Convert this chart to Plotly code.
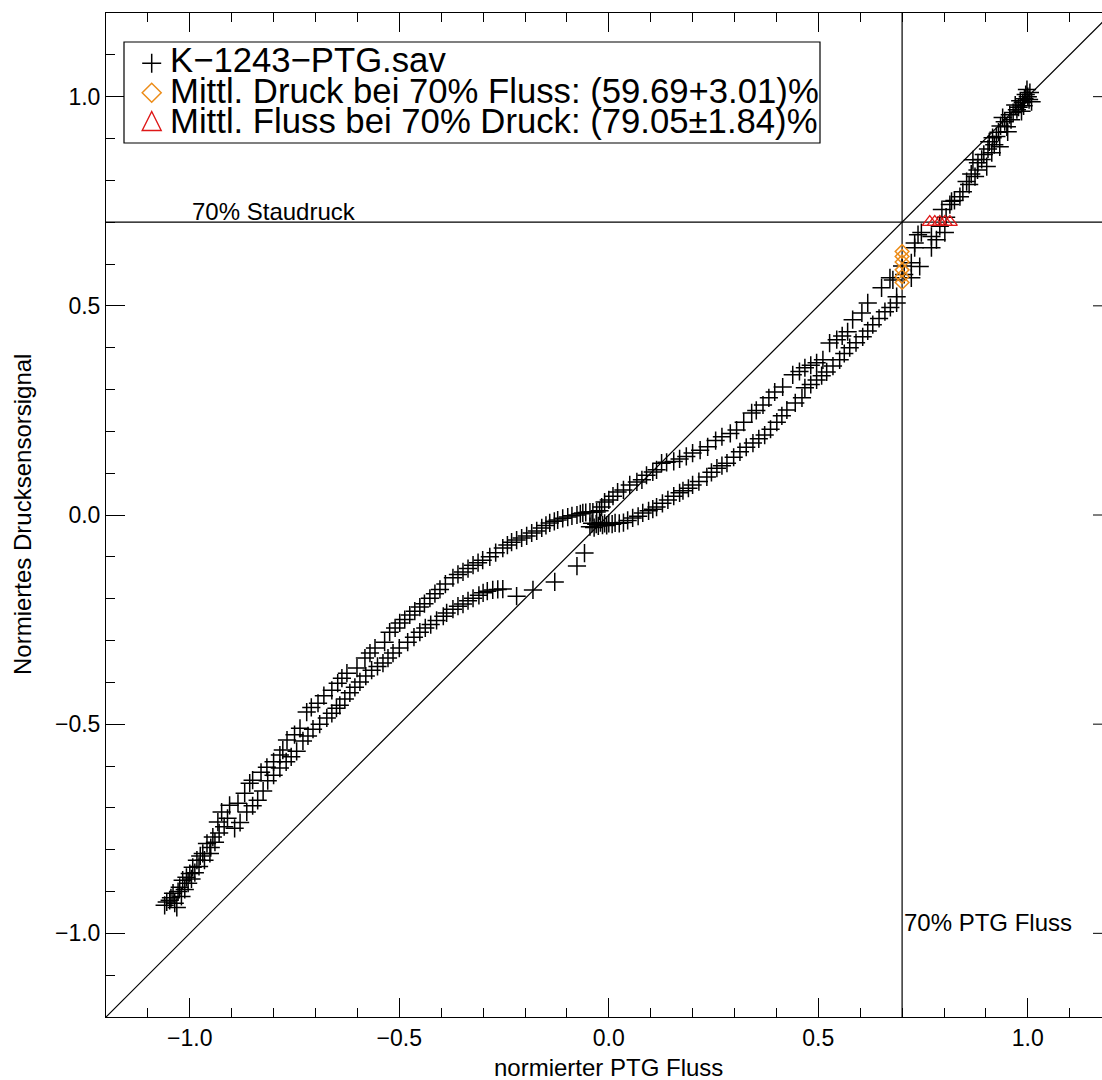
import plotly.graph_objects as go

# ---------------- data ----------------
# normierter PTG Fluss (x) / normiertes Drucksensorsignal (y)
cluster_low_x = [-1.060, -1.055, -1.048, -1.045, -1.040, -1.036, -1.031, -1.028, -1.024, -1.020, -1.017,
                 -1.012, -1.008, -1.004, -1.000, -0.996, -0.993, -0.988, -0.983, -0.978, -0.975, -0.969,
                 -0.965, -0.959, -0.952, -0.950, -0.945, -0.940, -0.933, -0.930, -0.924, -0.918, -0.910]
cluster_low_y = [-0.933, -0.925, -0.921, -0.915, -0.904, -0.928, -0.938, -0.900, -0.890, -0.912, -0.873,
                 -0.895, -0.866, -0.880, -0.857, -0.870, -0.842, -0.855, -0.825, -0.840, -0.815, -0.809,
                 -0.825, -0.785, -0.809, -0.795, -0.770, -0.782, -0.734, -0.760, -0.710, -0.745, -0.725]

upper_left1_x = [-0.905, -0.885, -0.869, -0.857, -0.850, -0.830, -0.816, -0.800, -0.785, -0.778, -0.768,
                 -0.750, -0.737, -0.721, -0.710, -0.694, -0.680, -0.661, -0.647, -0.637, -0.625, -0.601,
                 -0.582, -0.570, -0.558, -0.535, -0.523, -0.510, -0.499, -0.487, -0.475, -0.463, -0.451,
                 -0.440, -0.427]
upper_left1_y = [-0.694, -0.689, -0.665, -0.641, -0.634, -0.615, -0.603, -0.590, -0.574, -0.562, -0.538,
                 -0.525, -0.510, -0.471, -0.460, -0.450, -0.432, -0.419, -0.402, -0.390, -0.378, -0.366,
                 -0.342, -0.330, -0.318, -0.304, -0.280, -0.270, -0.258, -0.250, -0.239, -0.230, -0.220,
                 -0.212, -0.199]

upper_left2_x = [-0.415, -0.403, -0.390, -0.372, -0.360, -0.348, -0.336, -0.324, -0.312, -0.301, -0.284,
                 -0.270, -0.253, -0.242, -0.232, -0.220, -0.208, -0.196, -0.184, -0.172, -0.160, -0.150,
                 -0.141, -0.130, -0.122, -0.110, -0.098, -0.088, -0.076, -0.068, -0.062, -0.055, -0.045,
                 -0.038, -0.029, -0.022]
upper_left2_y = [-0.188, -0.178, -0.165, -0.150, -0.142, -0.136, -0.128, -0.120, -0.114, -0.108, -0.100,
                 -0.090, -0.079, -0.072, -0.065, -0.060, -0.055, -0.050, -0.043, -0.038, -0.031, -0.025,
                 -0.019, -0.015, -0.012, -0.008, -0.005, -0.002, 0.000, 0.003, 0.005, 0.006, 0.007,
                 0.007, 0.007, 0.010]

upper_right_x = [-0.017, -0.010, 0.000, 0.010, 0.021, 0.035, 0.050, 0.067, 0.079, 0.090, 0.105,
                 0.114, 0.126, 0.138, 0.155, 0.169, 0.185, 0.200, 0.218, 0.236, 0.255, 0.270,
                 0.290, 0.305, 0.322, 0.341, 0.352, 0.368, 0.382, 0.396, 0.415, 0.439, 0.455,
                 0.468, 0.482, 0.496, 0.511, 0.527, 0.544, 0.557, 0.570, 0.582, 0.604, 0.618]
upper_right_y = [0.019, 0.031, 0.036, 0.045, 0.055, 0.060, 0.072, 0.079, 0.084, 0.095, 0.103,
                 0.108, 0.124, 0.126, 0.128, 0.134, 0.140, 0.148, 0.155, 0.163, 0.178, 0.187,
                 0.195, 0.203, 0.222, 0.244, 0.250, 0.263, 0.280, 0.294, 0.306, 0.335, 0.343,
                 0.352, 0.358, 0.364, 0.371, 0.411, 0.419, 0.428, 0.438, 0.467, 0.483, 0.507]

lower_left1_x = [-0.893, -0.880, -0.864, -0.850, -0.838, -0.825, -0.814, -0.800, -0.785, -0.770, -0.758,
                 -0.745, -0.730, -0.718, -0.706, -0.690, -0.673, -0.661, -0.650, -0.642, -0.630, -0.618,
                 -0.606, -0.594, -0.580]
lower_left1_y = [-0.749, -0.735, -0.710, -0.695, -0.682, -0.660, -0.635, -0.622, -0.605, -0.590, -0.578,
                 -0.565, -0.540, -0.528, -0.512, -0.500, -0.485, -0.474, -0.462, -0.455, -0.440, -0.425,
                 -0.412, -0.399, -0.385]

lower_left2_x = [-0.566, -0.552, -0.539, -0.527, -0.515, -0.500, -0.480, -0.465, -0.451, -0.438, -0.425,
                 -0.411, -0.395, -0.387, -0.372, -0.360, -0.348, -0.336, -0.324, -0.310, -0.300, -0.290,
                 -0.277, -0.265, -0.253]
lower_left2_y = [-0.371, -0.362, -0.354, -0.342, -0.330, -0.318, -0.304, -0.292, -0.280, -0.270, -0.262,
                 -0.252, -0.242, -0.234, -0.225, -0.218, -0.213, -0.205, -0.199, -0.192, -0.186, -0.182,
                 -0.179, -0.178, -0.177]

transition_x = [-0.220, -0.181, -0.129, -0.076, -0.058]
transition_y = [-0.194, -0.179, -0.160, -0.122, -0.091]

center_x = [-0.045, -0.040, -0.035, -0.030, -0.025, -0.020, -0.015, -0.010, -0.005, 0.000, 0.008,
            0.015, 0.025, 0.035, 0.045]
center_y = [-0.028, -0.020, -0.030, -0.022, -0.026, -0.018, -0.024, -0.020, -0.025, -0.020, -0.022,
            -0.019, -0.020, -0.018, -0.013]

lower_right1_x = [0.057, 0.070, 0.081, 0.095, 0.105, 0.114, 0.128, 0.141, 0.155, 0.169, 0.177,
                  0.190, 0.200, 0.215, 0.234, 0.245, 0.258, 0.270, 0.282, 0.298, 0.313, 0.328,
                  0.344, 0.358, 0.372]
lower_right1_y = [-0.007, -0.003, 0.005, 0.010, 0.014, 0.019, 0.028, 0.036, 0.045, 0.053, 0.058,
                  0.064, 0.072, 0.080, 0.091, 0.102, 0.112, 0.118, 0.124, 0.138, 0.151, 0.162,
                  0.172, 0.182, 0.191]

lower_right2_x = [0.386, 0.401, 0.413, 0.425, 0.445, 0.461, 0.468, 0.482, 0.496, 0.508, 0.520,
                  0.535, 0.551, 0.562, 0.575, 0.590, 0.606, 0.618, 0.630, 0.645, 0.659, 0.672, 0.687]
lower_right2_y = [0.205, 0.222, 0.237, 0.251, 0.268, 0.280, 0.304, 0.312, 0.323, 0.333, 0.342,
                  0.356, 0.371, 0.386, 0.400, 0.412, 0.426, 0.440, 0.455, 0.470, 0.486, 0.496, 0.507]

top_right1_x = [0.651, 0.671, 0.678, 0.687, 0.700, 0.705, 0.722, 0.722, 0.730, 0.730, 0.738,
                0.742, 0.746, 0.770, 0.770, 0.782, 0.790, 0.802, 0.805, 0.795, 0.814, 0.818,
                0.825, 0.838, 0.845]
top_right1_y = [0.543, 0.567, 0.562, 0.522, 0.595, 0.575, 0.603, 0.567, 0.650, 0.639, 0.670,
                0.594, 0.675, 0.666, 0.639, 0.658, 0.690, 0.675, 0.712, 0.730, 0.742, 0.750,
                0.752, 0.761, 0.773]

top_right2_x = [0.854, 0.860, 0.865, 0.869, 0.874, 0.880, 0.881, 0.890, 0.895, 0.902, 0.905,
                0.908, 0.914, 0.916, 0.920, 0.925, 0.930, 0.933, 0.935, 0.940, 0.945, 0.950,
                0.952, 0.957, 0.960]
top_right2_y = [0.797, 0.790, 0.815, 0.849, 0.809, 0.825, 0.842, 0.850, 0.862, 0.833, 0.875,
                0.892, 0.866, 0.902, 0.885, 0.905, 0.915, 0.880, 0.930, 0.950, 0.940, 0.928,
                0.916, 0.957, 0.945]

top_right3_x = [0.965, 0.970, 0.974, 0.978, 0.982, 0.985, 0.988, 0.990, 0.992, 0.995, 0.998,
                1.000, 1.003, 1.005, 1.009]
top_right3_y = [0.962, 0.980, 0.969, 0.975, 0.990, 0.965, 0.986, 0.978, 0.995, 1.005, 1.017,
                1.000, 0.993, 1.010, 0.988]

# mean pressure at 70 % flow (diamonds) and mean flow at 70 % pressure (triangles)
druck_x = [0.700, 0.700, 0.700, 0.700, 0.700, 0.700]
druck_y = [0.630, 0.618, 0.605, 0.586, 0.570, 0.556]
fluss_x = [0.766, 0.778, 0.790, 0.802, 0.814]
fluss_y = [0.700, 0.700, 0.700, 0.700, 0.700]

THRESH = 0.7
x_ticks = [-1.0, -0.5, 0.0, 0.5, 1.0]
y_ticks = [-1.0, -0.5, 0.0, 0.5, 1.0]

legend_labels = ["K\u22121243\u2212PTG.sav",
                 "Mittl. Druck bei 70% Fluss: (59.69+3.01)%",
                 "Mittl. Fluss bei 70% Druck: (79.05\u00b11.84)%"]
x_title = "normierter PTG Fluss"
y_title = "Normiertes Drucksensorsignal"

segments_x = [cluster_low_x, upper_left1_x, upper_left2_x, upper_right_x, lower_left1_x, lower_left2_x,
              transition_x, center_x, lower_right1_x, lower_right2_x, top_right1_x, top_right2_x, top_right3_x]
segments_y = [cluster_low_y, upper_left1_y, upper_left2_y, upper_right_y, lower_left1_y, lower_left2_y,
              transition_y, center_y, lower_right1_y, lower_right2_y, top_right1_y, top_right2_y, top_right3_y]
flow, pressure = [], []
for sx, sy in zip(segments_x, segments_y):
    assert len(sx) == len(sy)
    flow += sx
    pressure += sy

# ---------------- layout geometry ----------------
W, H = 1102, 1080
ML, MR, MT, MB = 106, 0, 13, 63
PW, PH = W - ML - MR, H - MT - MB
X_MIN, Y_MIN, Y_MAX = -1.2, -1.2, 1.2
PX_PER_UNIT = 419.0
X_MAX_VIS = X_MIN + PW / PX_PER_UNIT   # the plot is cut off at the right edge

FONT = "Liberation Sans, Arial, sans-serif"
ORANGE = "rgb(236,140,24)"
RED = "rgb(222,24,24)"


def pxx(px):
    return (px - ML) / PW


def pxy(py):
    return (H - MB - py) / PH


fig = go.Figure()
fig.add_trace(go.Scatter(x=flow, y=pressure, mode="markers",
                         marker=dict(symbol="cross-thin", size=13, line=dict(color="black", width=1.5)),
                         showlegend=False, cliponaxis=True))
fig.add_trace(go.Scatter(x=druck_x, y=druck_y, mode="markers",
                         marker=dict(symbol="diamond-open", size=10.5, color=ORANGE, line=dict(color=ORANGE, width=1.5)),
                         showlegend=False))
fig.add_trace(go.Scatter(x=fluss_x, y=fluss_y, mode="markers",
                         marker=dict(symbol="triangle-up-open", size=13, color=RED, line=dict(color=RED, width=1.3)),
                         showlegend=False))

shapes = [
    dict(type="line", xref="x", yref="y", x0=X_MIN, y0=Y_MIN, x1=-X_MIN, y1=Y_MAX,
         line=dict(color="black", width=1.2), layer="below"),
    dict(type="line", xref="paper", yref="y", x0=0, x1=1, y0=THRESH, y1=THRESH,
         line=dict(color="black", width=1.2), layer="below"),
    dict(type="line", xref="x", yref="paper", x0=THRESH, x1=THRESH, y0=0, y1=1,
         line=dict(color="black", width=1.2), layer="below"),
]
# stubs of the right-hand major ticks (axis itself lies just outside the picture)
for v in y_ticks:
    shapes.append(dict(type="line", xref="paper", yref="y", x0=1 - 9 / PW, x1=1, y0=v, y1=v,
                       line=dict(color="black", width=1)))
# legend frame
shapes.append(dict(type="rect", xref="paper", yref="paper", x0=pxx(124), x1=pxx(820), y0=pxy(143), y1=pxy(42),
                   line=dict(color="black", width=1.2), fillcolor="white", layer="above"))
# legend symbols
sym_cx = 151.7
sym_specs = [
    (63.3, "M-9.5,0 H9.5 M0,-9.5 V9.5", "black", 1.5),
    (92.7, "M-9.5,0 L0,9.5 L9.5,0 L0,-9.5 Z", ORANGE, 1.5),
    (121.0, "M-9.5,-9.5 L9.5,-9.5 L0,9.5 Z", RED, 1.4),
]
for cy, path, col, lw in sym_specs:
    shapes.append(dict(type="path", xref="paper", yref="paper", xsizemode="pixel", ysizemode="pixel",
                       xanchor=pxx(sym_cx), yanchor=pxy(cy), path=path,
                       line=dict(color=col, width=lw), layer="above"))

annotations = []
for label, cy in zip(legend_labels, [58.5, 89.0, 119.0]):
    annotations.append(dict(text=label, xref="paper", yref="paper", x=pxx(168), y=pxy(cy + 1.5),
                            xanchor="left", yanchor="middle", showarrow=False,
                            font=dict(family=FONT, size=34.7, color="black")))
annotations.append(dict(text="70% Staudruck", xref="x", yref="y", x=-1.0, y=THRESH, xanchor="left",
                        yanchor="bottom", yshift=-5, showarrow=False,
                        font=dict(family=FONT, size=24, color="black")))
annotations.append(dict(text="70% PTG Fluss", xref="x", yref="y", x=THRESH, y=-1.0, xanchor="left",
                        yanchor="bottom", yshift=-5, showarrow=False,
                        font=dict(family=FONT, size=24, color="black")))
annotations.append(dict(text=x_title, xref="x", yref="paper", x=0.0, y=0, xanchor="center",
                        yanchor="top", yshift=-35, showarrow=False,
                        font=dict(family=FONT, size=24, color="black")))
annotations.append(dict(text=y_title, xref="paper", yref="y", x=pxx(22), y=0.0, xanchor="center",
                        yanchor="middle", textangle=-90, showarrow=False,
                        font=dict(family=FONT, size=24, color="black")))

axis_common = dict(showline=True, linecolor="black", linewidth=1, ticks="inside", ticklen=19, tickwidth=1,
                   tickcolor="black", showgrid=False, zeroline=False, tickformat=".1f",
                   tickfont=dict(family=FONT, size=23, color="black"),
                   minor=dict(dtick=0.1, ticklen=9, tickwidth=1, tickcolor="black", ticks="inside", showgrid=False))

fig.update_layout(
    width=W, height=H, margin=dict(l=ML, r=MR, t=MT, b=MB, pad=0),
    paper_bgcolor="white", plot_bgcolor="white", showlegend=False,
    xaxis=dict(range=[X_MIN, X_MAX_VIS], tickvals=x_ticks, mirror="ticks", **axis_common),
    yaxis=dict(range=[Y_MIN, Y_MAX], tickvals=y_ticks, mirror=False, **axis_common),
    shapes=shapes, annotations=annotations,
    font=dict(family=FONT, color="black"),
)

fig.write_html("out.html")
